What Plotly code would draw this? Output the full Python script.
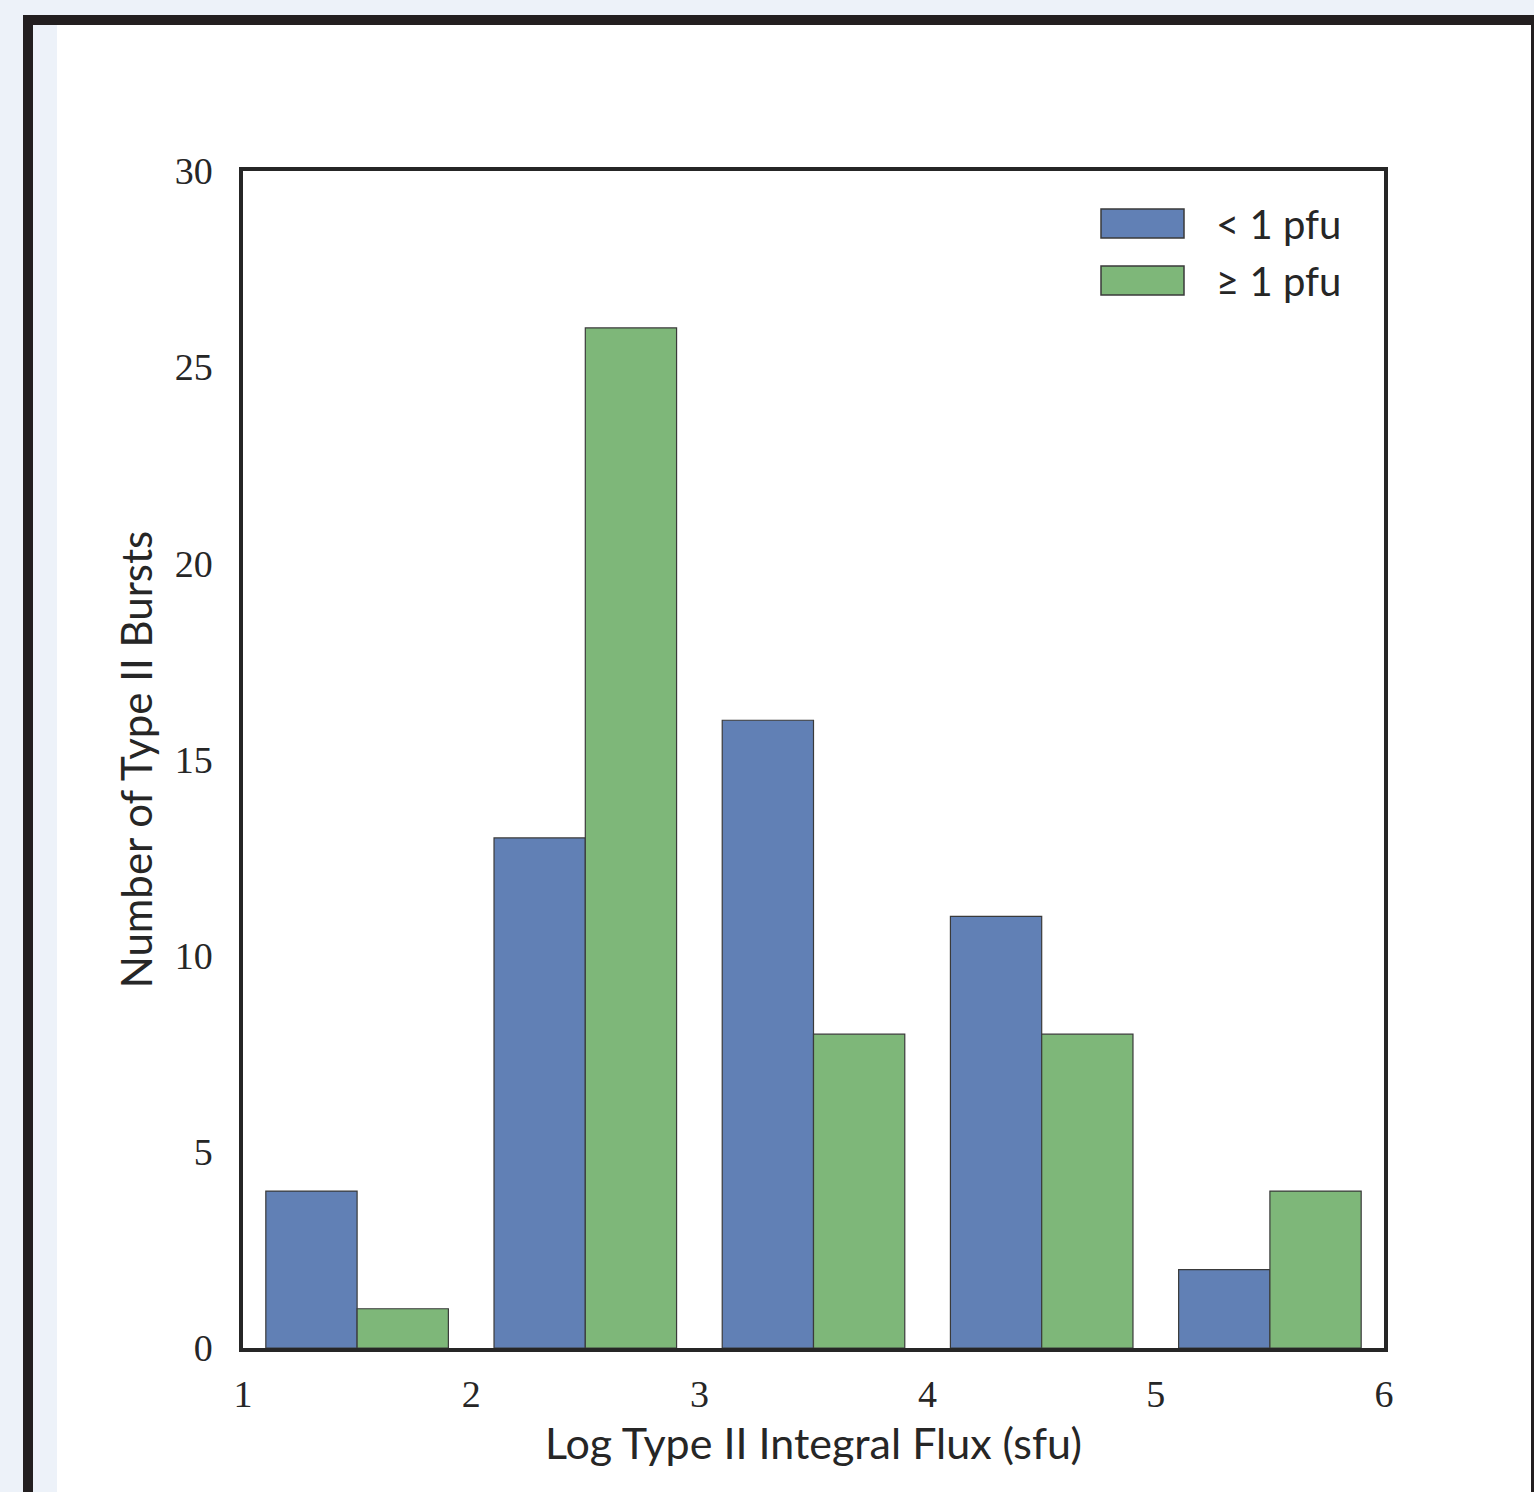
import plotly.graph_objects as go

# ---- data ----
bin_left_edges = [1, 2, 3, 4, 5]
bin_centers = [1.5, 2.5, 3.5, 4.5, 5.5]
counts_lt1 = [4, 13, 16, 11, 2]      # < 1 pfu
counts_ge1 = [1, 26, 8, 8, 4]        # >= 1 pfu
series_names = ["< 1 pfu", "≥ 1 pfu"]
x_ticks = [1, 2, 3, 4, 5, 6]
y_ticks = [0, 5, 10, 15, 20, 25, 30]

W, H = 1534, 1492
ML, MR, MT, MB = 243, 150, 171, 144
PW, PH = W - ML - MR, H - MT - MB

BLUE = "#6180B5"
GREEN = "#7EB779"
EDGE = "#3a3a3a"
AX = "#262626"
PAGE_BG = "#EDF2F9"


def px(x):
    return (x - ML) / PW


def py(y):
    return (H - MB - y) / PH


fig = go.Figure()
fig.add_trace(go.Bar(x=bin_centers, y=counts_lt1, name=series_names[0],
                     marker=dict(color=BLUE, line=dict(color=EDGE, width=1.2))))
fig.add_trace(go.Bar(x=bin_centers, y=counts_ge1, name=series_names[1],
                     marker=dict(color=GREEN, line=dict(color=EDGE, width=1.2))))

shapes = [
    # page frame
    dict(type="rect", xref="paper", yref="paper", x0=px(23), x1=px(W + 5), y0=py(15), y1=py(H + 5),
         fillcolor="#231F20", line=dict(width=0), layer="below"),
    dict(type="rect", xref="paper", yref="paper", x0=px(33), x1=px(1531), y0=py(25), y1=py(H + 5),
         fillcolor="white", line=dict(width=0), layer="below"),
    dict(type="rect", xref="paper", yref="paper", x0=px(33), x1=px(57), y0=py(25), y1=py(H + 5),
         fillcolor=PAGE_BG, line=dict(width=0), layer="below"),
    # legend swatches
    dict(type="rect", xref="paper", yref="paper", x0=px(1101), x1=px(1184), y0=py(209), y1=py(238),
         fillcolor=BLUE, line=dict(color=EDGE, width=1.5)),
    dict(type="rect", xref="paper", yref="paper", x0=px(1101), x1=px(1184), y0=py(266), y1=py(295),
         fillcolor=GREEN, line=dict(color=EDGE, width=1.5)),
]

annotations = [
    dict(xref="paper", yref="paper", x=px(1214), y=py(224), text=series_names[0], showarrow=False,
         xanchor="left", yanchor="middle", font=dict(family="Lato", size=40, color=AX)),
    dict(xref="paper", yref="paper", x=px(1214), y=py(281), text=series_names[1], showarrow=False,
         xanchor="left", yanchor="middle", font=dict(family="Lato", size=40, color=AX)),
]

fig.update_layout(
    width=W, height=H,
    margin=dict(l=ML, r=MR, t=MT, b=MB, pad=0),
    paper_bgcolor=PAGE_BG,
    plot_bgcolor="white",
    barmode="group", bargap=0.2, bargroupgap=0,
    showlegend=False,
    shapes=shapes,
    annotations=annotations,
    xaxis=dict(range=[1, 6], tickvals=x_ticks, showgrid=False, zeroline=False,
               showline=True, mirror=True, linewidth=3.5, linecolor=AX,
               ticks="outside", ticklen=10, tickcolor="rgba(0,0,0,0)",
               tickfont=dict(family="Liberation Serif", size=38, color=AX),
               title=dict(text="Log Type II Integral Flux (sfu)", standoff=16,
                          font=dict(family="Lato", size=43, color=AX))),
    yaxis=dict(range=[0, 30], tickvals=y_ticks, showgrid=False, zeroline=False,
               showline=True, mirror=True, linewidth=3.5, linecolor=AX,
               ticks="outside", ticklen=19, tickcolor="rgba(0,0,0,0)",
               tickfont=dict(family="Liberation Serif", size=38, color=AX),
               title=dict(text="Number of Type II Bursts", standoff=10,
                          font=dict(family="Lato", size=42, color=AX))),
)

fig.write_html("out.html")
